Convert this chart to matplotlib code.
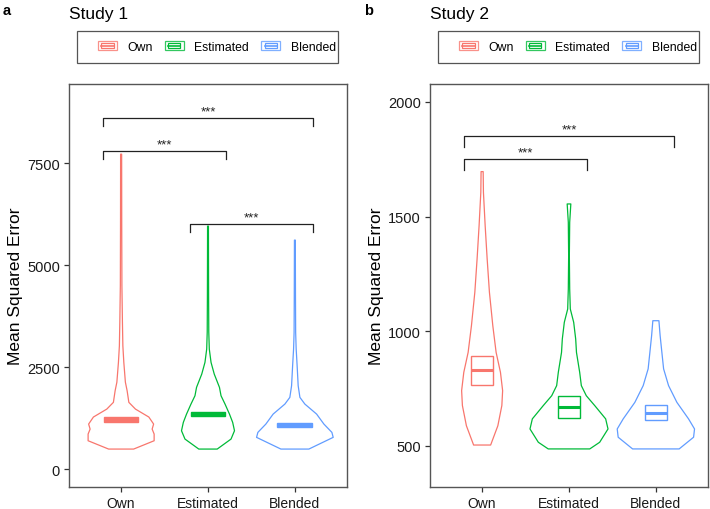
import matplotlib
matplotlib.use('Agg')
import matplotlib.pyplot as plt
from matplotlib.patches import Rectangle
from matplotlib.lines import Line2D
from matplotlib.legend_handler import HandlerBase

plt.rcParams['font.family'] = ['Liberation Sans', 'DejaVu Sans']

groups = ['Own', 'Estimated', 'Blended']
colors = ['#F8766D', '#00BA38', '#619CFF']

# violin outlines: value, half width (category units)
s1_own_vals = [490, 694, 858, 980, 1103, 1275, 1470, 1635, 1920, 2130, 2615, 3020, 3600, 4500, 6000, 7720]
s1_own_hw = [0.144, 0.38, 0.38, 0.357, 0.374, 0.319, 0.165, 0.089, 0.069, 0.049, 0.031, 0.020, 0.015, 0.009, 0.007, 0.006]
s1_est_vals = [490, 735, 939, 1144, 1348, 1593, 1797, 2002, 2328, 2615, 2941, 3358, 4200, 5000, 5956]
s1_est_hw = [0.106, 0.265, 0.305, 0.284, 0.247, 0.196, 0.150, 0.132, 0.072, 0.035, 0.015, 0.009, 0.007, 0.006, 0.005]
s1_bl_vals = [490, 777, 899, 1103, 1348, 1593, 1757, 2042, 2533, 2941, 3350, 4200, 5613]
s1_bl_hw = [0.161, 0.441, 0.426, 0.334, 0.250, 0.115, 0.058, 0.038, 0.026, 0.015, 0.009, 0.007, 0.005]

s2_own_vals = [504, 588, 676, 741, 821, 908, 1024, 1170, 1315, 1460, 1606, 1696]
s2_own_hw = [0.098, 0.181, 0.227, 0.236, 0.211, 0.161, 0.123, 0.084, 0.058, 0.035, 0.015, 0.012]
s2_est_vals = [487, 516, 574, 618, 676, 719, 763, 821, 908, 966, 1039, 1097, 1184, 1330, 1475, 1555]
s2_est_hw = [0.239, 0.353, 0.449, 0.422, 0.296, 0.199, 0.142, 0.123, 0.086, 0.077, 0.054, 0.015, 0.008, 0.004, 0.008, 0.021]
s2_bl_vals = [487, 538, 574, 618, 690, 763, 836, 908, 981, 1046]
s2_bl_hw = [0.268, 0.434, 0.445, 0.376, 0.242, 0.146, 0.089, 0.069, 0.049, 0.035]

# mean with confidence interval
s1_mean = [1213, 1348, 1090]
s1_lo = [1155, 1292, 1040]
s1_hi = [1270, 1405, 1140]
s2_mean = [831, 669, 644]
s2_lo = [767, 622, 613]
s2_hi = [894, 717, 680]

# significance brackets: (from, to, level, tip)
s1_sig = [(0, 2, 8596, 8400), (0, 1, 7802, 7598), (1, 2, 5997, 5801)]
s2_sig = [(0, 2, 1850, 1802), (0, 1, 1749, 1701)]


class CrossbarHandler(HandlerBase):
    def create_artists(self, legend, orig_handle, xdescent, ydescent, width, height, fontsize, trans):
        c = orig_handle.get_edgecolor()
        x0, y0 = -xdescent, -ydescent
        outer = Rectangle((x0, y0), width, height, fill=False, ec=c, lw=0.9, alpha=0.8, transform=trans)
        inner = Rectangle((x0 + width * 0.18, y0 + height * 0.25), width * 0.64, height * 0.5,
                          fill=False, ec=c, lw=0.9, transform=trans)
        mid = Line2D([x0 + width * 0.18, x0 + width * 0.82], [y0 + height / 2] * 2, color=c, lw=1.2,
                     transform=trans)
        return [outer, inner, mid]


def panel(fig, rect, letter, title, violins, mean, lo, hi, box_w, solid, sig, ylim, yticks):
    ax = fig.add_axes(rect)
    for i, (vals, hw) in enumerate(violins):
        left = [i - w for w in hw]
        right = [i + w for w in hw]
        ax.fill_betweenx(vals, left, right, facecolor='none', edgecolor=colors[i], lw=0.9)
        ax.add_patch(Rectangle((i - box_w / 2, lo[i]), box_w, hi[i] - lo[i],
                               facecolor=colors[i] if solid else 'none', ec=colors[i], lw=1.0))
        ax.plot([i - box_w / 2, i + box_w / 2], [mean[i]] * 2, color=colors[i], lw=2.2,
                solid_capstyle='butt')

    for a, b, lev, tip in sig:
        xa, xb = a - 0.21, b + 0.21
        ax.plot([xa, xa, xb, xb], [tip, lev, lev, tip], color='#222222', lw=0.9)
        ax.annotate('***', ((xa + xb) / 2, lev), xytext=(0, 0.5), textcoords='offset points',
                    ha='center', va='bottom', fontsize=9.5, color='#222222')

    ax.set_xlim(-0.6, 2.6)
    ax.set_ylim(*ylim)
    ax.set_xticks(range(3))
    ax.set_xticklabels(groups, fontsize=10)
    ax.set_yticks(yticks)
    ax.set_yticklabels([str(t) for t in yticks], fontsize=10.5)
    ax.tick_params(colors='#333333', length=3.5, width=0.9, labelcolor='#1a1a1a', pad=3)
    for s in ax.spines.values():
        s.set_color('#555555')
        s.set_linewidth(1.0)
    ax.set_ylabel('Mean Squared Error', fontsize=12.5, labelpad=3)

    x0 = rect[0] * 710
    fig.text((x0 - 66) / 710, 1 - 11 / 510, letter, fontsize=10.5, fontweight='bold', va='center')
    fig.text(x0 / 710, 1 - 14 / 510, title, fontsize=12.5, va='center')

    # legend with a ggplot-like frame
    fig.patches.append(Rectangle((x0 + 8, 510 - 64), 261, 32, fill=False, ec='#555555', lw=0.9,
                                 transform=None, figure=fig))
    handles = [Rectangle((0, 0), 1, 1, fill=False, ec=c) for c in colors]
    fig.legend(handles, groups, handler_map={Rectangle: CrossbarHandler()}, ncol=3,
               loc='center left', bbox_to_anchor=((x0 + 29) / 710, 1 - 48 / 510), frameon=False,
               borderpad=0, borderaxespad=0, fontsize=8.8, handlelength=1.55, handleheight=0.8,
               handletextpad=0.85, columnspacing=1.0)
    return ax


fig = plt.figure(figsize=(7.1, 5.1), dpi=100)

s1 = [(s1_own_vals, s1_own_hw), (s1_est_vals, s1_est_hw), (s1_bl_vals, s1_bl_hw)]
s2 = [(s2_own_vals, s2_own_hw), (s2_est_vals, s2_est_hw), (s2_bl_vals, s2_bl_hw)]

panel(fig, [69 / 710, 22 / 510, 278 / 710, 403 / 510], 'a', 'Study 1', s1, s1_mean, s1_lo, s1_hi,
      0.40, True, s1_sig, (-440, 9440), [0, 2500, 5000, 7500])
panel(fig, [430 / 710, 22 / 510, 278 / 710, 403 / 510], 'b', 'Study 2', s2, s2_mean, s2_lo, s2_hi,
      0.25, False, s2_sig, (321, 2078), [500, 1000, 1500, 2000])

fig.savefig('out.png', dpi=100)
